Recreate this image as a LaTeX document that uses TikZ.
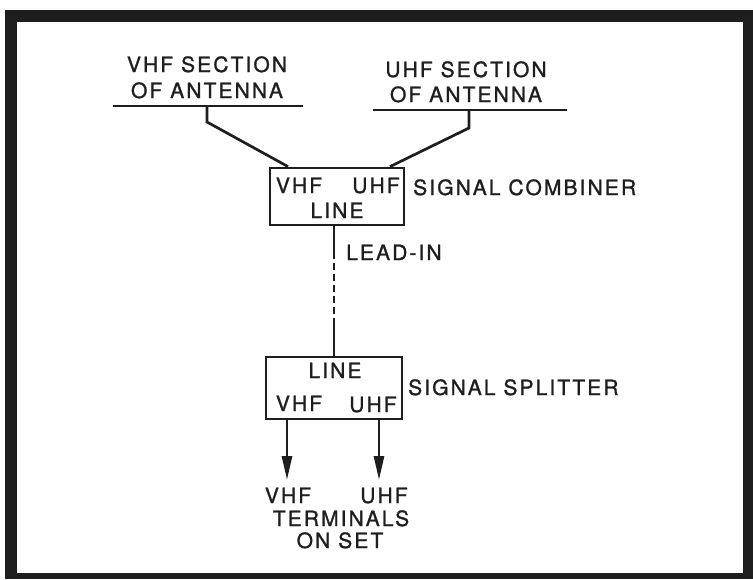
\documentclass[tikz,border=0pt]{standalone}
\usepackage{fontspec}
\newfontfamily\labfont[LetterSpace=10,FakeBold=1.2]{TeX Gyre Heros}
\usetikzlibrary{arrows.meta}
\definecolor{ink}{HTML}{1E1E1E}
\tikzset{
  lab/.style={font=\labfont\fontsize{21}{25}\selectfont, text=ink, inner sep=0pt, anchor=base},
  labl/.style={lab, anchor=base west},
  wire/.style={draw=ink, line width=2.7pt},
  boxline/.style={draw=ink, line width=2.8pt},
}
\begin{document}
\begin{tikzpicture}[x=1pt,y=-1pt]
\useasboundingbox (0,0) rectangle (753,579);
% frame
\fill[ink] (5,10) rectangle (753,579);
\fill[white] (17,22) rectangle (743,573);

% antenna labels
\node[lab] (vhfant1) at (207,72) {VHF SECTION};
\node[lab] (vhfant2) at (207,98) {OF ANTENNA};
\node[lab] (uhfant1) at (466,77) {UHF SECTION};
\node[lab] (uhfant2) at (466,102) {OF ANTENNA};

% antenna sections
\coordinate (va1) at (113,106); \coordinate (va2) at (303,106);
\coordinate (ua1) at (373,110); \coordinate (ua2) at (567,110);
\draw[wire] (va1) -- (va2);
\draw[wire] (ua1) -- (ua2);
\coordinate (vstem) at (207,106);
\coordinate (ustem) at (469,110);

% combiner
\node[boxline, minimum width=134pt, minimum height=57pt, inner sep=0pt] (comb) at (337,196.5) {};
\node[lab] (combv) at (299,193) {VHF};
\node[lab] (combu) at (376,193) {UHF};
\node[lab] (combl) at (337,218) {LINE};
\node[labl] (combname) at (413,195) {SIGNAL COMBINER};

\draw[wire, line join=miter] (vstem) -- (207,122) -- (comb.north west -| 288,0);
\draw[wire, line join=miter] (ustem) -- (469,128) -- (comb.north west -| 390,0);

% splitter
\node[boxline, minimum width=136pt, minimum height=62pt, inner sep=0pt] (split) at (334,388) {};
\node[lab] (splitl) at (335,378) {LINE};
\node[lab] (splitv) at (299,411) {VHF};
\node[lab] (splitu) at (373,412) {UHF};
\node[labl] (splitname) at (408,395) {SIGNAL SPLITTER};

% lead-in
\coordinate (d1) at (334,252);
\coordinate (d2) at (334,320);
\draw[wire] (comb.south -| 334,0) -- (d1);
\draw[wire, dash pattern=on 7pt off 4pt] (d1) -- (d2);
\draw[wire] (d2) -- (split.north -| 334,0);
\node[labl] (leadin) at (346,260) {LEAD-IN};

% outputs
\coordinate (vt) at (287,480);
\coordinate (ut) at (379,480);
\draw[wire, -{Triangle[length=24pt,width=10pt]}] (split.south -| 287,0) -- (vt);
\draw[wire, -{Triangle[length=24pt,width=10pt]}] (split.south -| 379,0) -- (ut);

\node[lab] (tv) at (288,503) {VHF};
\node[lab] (tu) at (384,503) {UHF};
\node[lab] (term1) at (341,526) {TERMINALS};
\node[lab] (term2) at (340,548) {ON SET};
\end{tikzpicture}
\end{document}
